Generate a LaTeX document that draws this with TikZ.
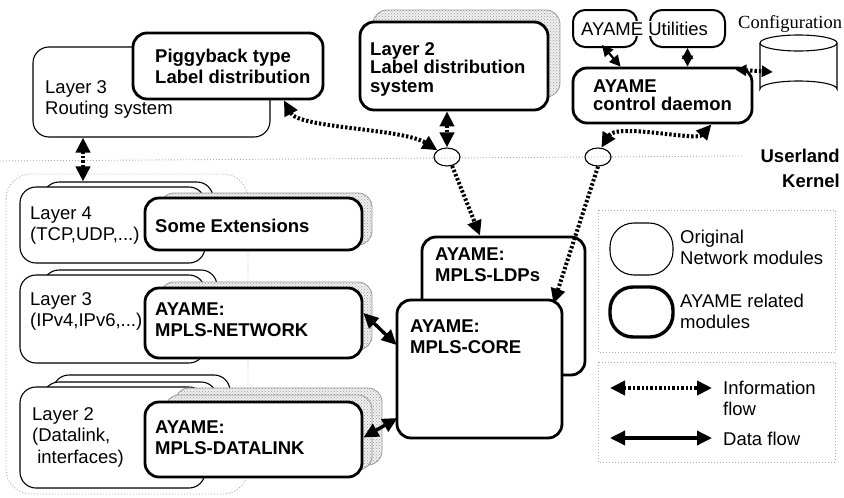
\documentclass[tikz,border=0pt]{standalone}
\usepackage{fontspec}
\setmainfont{Liberation Sans}
\newfontfamily\cfgserif{Liberation Serif}
\usetikzlibrary{arrows.meta,fit,shapes.geometric,calc,patterns}
\newcommand\ml[1]{\vtop{\halign{##\hfil\cr#1\crcr}}}
\begin{document}
\begin{tikzpicture}[x=1pt,y=-1pt,
  every node/.style={font=\fontsize{18.5}{21.5}\selectfont},
  thinbox/.style={draw, line width=1.1pt, rounded corners=16pt, fill=white, inner sep=0pt},
  thickbox/.style={draw, line width=2.8pt, rounded corners=14pt, fill=white, inner sep=0pt},
  midbox/.style={draw, line width=2pt, rounded corners=12pt, fill=white, inner sep=0pt},
  stipbox/.style={draw=gray!80, line width=0.8pt, rounded corners=14pt, fill=gray!12, inner sep=0pt,
     postaction={pattern=crosshatch dots, pattern color=gray!80}},
  txt/.style={anchor=base west, inner sep=0pt},
  btxt/.style={txt, font=\fontsize{18.5}{21.5}\selectfont\bfseries},
  tight/.style={font=\fontsize{18.5}{18.5}\selectfont\bfseries},
  gdot/.style={draw=gray!65, line width=0.9pt, dash pattern=on 1pt off 2pt},
  >={Triangle[length=15pt,width=14pt]},
  smalltips/.style={{Triangle[length=11pt,width=11pt]}-{Triangle[length=11pt,width=11pt]}},
  info/.style={line width=4pt, dash pattern=on 2.4pt off 2pt},
  data/.style={line width=3.4pt},
  sock/.style={draw, ellipse, line width=1.1pt, minimum width=26pt, minimum height=18pt, inner sep=0pt}
]
\useasboundingbox (0,0) rectangle (844,498);

% ---------- separators and frames ----------
\draw[gdot] (0,161) -- (742,156);
\draw[gdot, rounded corners=25pt] (6,174) rectangle (248,494);
\draw[gdot] (598,210) rectangle (835,352);
\draw[gdot] (598,362) rectangle (835,462);

% ---------- userland ----------
\node[thinbox, fit={(33,47) (270,137)}] (rt) {};
\node[thickbox, fit={(133,33) (323,99)}] (pig) {};
\node[txt] (trt) at (45,93) {\ml{Layer 3\cr Routing system}};
\node[btxt] (tpig) at (155,62) {\ml{Piggyback type\cr Label distribution}};

\node[stipbox, fit={(373,10) (560,97)}] (l2labs) {};
\node[thickbox, fit={(360,22) (548,110)}] (l2lab) {};
\node[btxt, tight] (tl2lab) at (370,55) {\ml{Layer 2\cr Label distribution\cr system}};

\node[midbox, fit={(573,10) (637,47)}] (ayb) {};
\node[midbox, fit={(650,10) (725,47)}] (util) {};
\node[anchor=base west, fill=white, inner sep=1pt] (tutil) at (580,35) {AYAME Utilities};
\node[thickbox, fit={(573,68) (752,123)}] (daemon) {};
\node[btxt, tight] (tdaemon) at (593,92) {\ml{AYAME\cr control daemon}};

\node[anchor=base west, inner sep=0pt, font=\fontsize{18.5}{21}\cfgserif] (tcfg) at (738,28) {Configuration};
\node[inner sep=0pt, fit={(760,35) (837,97)}] (cyl) {};
\draw[line width=1.1pt, fill=white] (760,43) -- (760,89) arc[start angle=180, end angle=360, x radius=38.5pt, y radius=-8pt] -- (837,43);
\draw[line width=1.1pt, fill=white] (798.5,43) ellipse[x radius=38.5pt, y radius=8pt];

\node[btxt, anchor=base east] (tul) at (840,162) {Userland};
\node[btxt, anchor=base east] (tkn) at (840,187) {Kernel};

\node[sock] (e1) at (447,157) {};
\node[sock] (e2) at (598,157) {};

% ---------- kernel: layer 4 ----------
\node[thinbox, fit={(43,182) (213,240)}] (l4b) {};
\node[thinbox, fit={(20,187) (205,263)}] (l4) {};
\node[stipbox, fit={(160,193) (372,245)}] (exts) {};
\node[thickbox, fit={(145,198) (362,250)}] (ext) {};
\node[txt] (tl4) at (30,219) {\ml{Layer 4\cr (TCP,UDP,...)}};
\node[btxt] (text) at (155,232) {Some Extensions};

% ---------- kernel: layer 3 ----------
\node[thinbox, fit={(43,270) (217,340)}] (l3b) {};
\node[thinbox, fit={(20,275) (205,363)}] (l3) {};
\node[stipbox, fit={(160,282) (372,350)}] (nets) {};
\node[thickbox, fit={(145,288) (362,358)}] (net) {};
\node[txt] (tl3) at (30,305) {\ml{Layer 3\cr (IPv4,IPv6,...)}};
\node[btxt] (tnet) at (155,315) {\ml{AYAME:\cr MPLS-NETWORK}};

% ---------- kernel: layer 2 ----------
\node[thinbox, fit={(53,375) (230,450)}] (l2bb) {};
\node[thinbox, fit={(43,382) (217,460)}] (l2b) {};
\node[thinbox, fit={(20,387) (205,488)}] (l2) {};
\node[stipbox, fit={(175,388) (382,465)}] (dlss) {};
\node[stipbox, fit={(165,395) (372,470)}] (dls) {};
\node[thickbox, fit={(145,402) (362,477)}] (dl) {};
\node[txt] (tl2) at (32,420) {\ml{Layer 2\cr (Datalink,\cr \ interfaces)}};
\node[btxt] (tdl) at (155,433) {\ml{AYAME:\cr MPLS-DATALINK}};

% ---------- core ----------
\node[thickbox, fit={(422,237) (585,375)}] (ldps) {};
\node[thickbox, fit={(397,300) (562,438)}] (core) {};
\node[btxt] (tldps) at (435,260) {\ml{AYAME:\cr MPLS-LDPs}};
\node[btxt] (tcore) at (410,332) {\ml{AYAME:\cr MPLS-CORE}};

% ---------- legend ----------
\node[thinbox, rounded corners=24pt, fit={(610,223) (673,275)}] (lg1) {};
\node[thickbox, line width=3.4pt, rounded corners=23pt, fit={(610,287) (673,337)}] (lg2) {};
\node[txt] (tlg1) at (680,243) {\ml{Original\cr Network modules}};
\node[txt] (tlg2) at (680,307) {\ml{AYAME related\cr modules}};
\coordinate (li1) at (610,388);
\coordinate (li2) at (712,388);
\coordinate (ld1) at (610,438);
\coordinate (ld2) at (712,438);
\draw[info,<->] (li1) -- (li2);
\draw[data,<->] (ld1) -- (ld2);
\node[txt] (tlg3) at (723,394) {\ml{Information\cr flow}};
\node[txt] (tlg4) at (723,445) {Data flow};

% ---------- connectors ----------
\coordinate (xa) at (83,0);
\draw[info,<->] (rt.south -| xa) -- (l4b.north -| xa);
\draw[info,<->] ($(pig.south)+(56,0)$) .. controls +(15,28) and +(-35,-22) .. (e1.north west);
\draw[info,<->] (l2lab.south -| e1) -- (e1.north);
\draw[info,->] (e1.-60) -- ($(ldps.north)+(-23.5,0)$);
\draw[info,<->] ($(daemon.south east)+(-42,0)$) .. controls +(-15,17) and +(15,-25) .. (e2.70);
\draw[info,->] (e2.south) -- ($(core.north east)+(-10,5)$);
\draw[info,smalltips] ($(daemon.north east)+(-18,3)$) -- ($(cyl.west)+(13,6)$);
\draw[line width=2.2pt,smalltips] ($(ayb.south)+(-3,-3)$) -- ($(daemon.north west)+(49,0)$);
\draw[line width=2.2pt,smalltips] (util.south) -- (util.south |- daemon.north);
\draw[data,<->] ($(net.east)+(0,-10)$) -- ($(core.west)+(1,-24)$);
\draw[data,<->] ($(dl.east)+(0,-2)$) -- ($(core.west)+(2,49)$);
\end{tikzpicture}
\end{document}
